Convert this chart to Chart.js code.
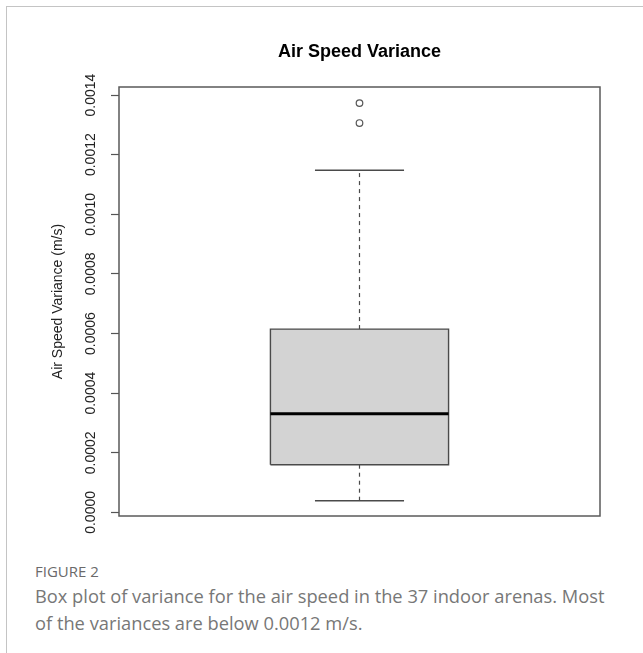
<!DOCTYPE html>
<html>
<head>
<meta charset="utf-8">
<script src="https://cdn.jsdelivr.net/npm/chart.js@4.4.1/dist/chart.umd.min.js"></script>
<style>
  html, body { margin: 0; padding: 0; background: #fff; }
  body { width: 643px; height: 653px; position: relative; overflow: hidden; }
  #frame { position: absolute; left: 6px; top: 6px; right: 0; bottom: 0;
           border-top: 1px solid #c4c4c4; border-left: 1px solid #c4c4c4; }
  #wrap { position: absolute; left: 0; top: 0; width: 643px; height: 545px; }
  #fig { position: absolute; left: 35px; top: 562px; font-family: "Open Sans", sans-serif;
         font-size: 15px; color: #6a6a6a; line-height: 19px; }
  #cap { position: absolute; left: 35px; top: 582px; font-family: "Open Sans", sans-serif;
         font-size: 18.3px; color: #777; line-height: 27px; white-space: nowrap; }
</style>
</head>
<body>
<div id="frame"></div>
<div id="wrap"><canvas id="c" width="643" height="545"></canvas></div>
<div id="fig">FIGURE 2</div>
<div id="cap">Box plot of variance for the air speed in the 37 indoor arenas. Most<br>of the variances are below 0.0012 m/s.</div>
<script>
// ---- data ----
const chartTitle = "Air Speed Variance";
const yAxisTitle = "Air Speed Variance (m/s)";
// [lower whisker, Q1, median, Q3, upper whisker]
const boxStats = [0.0000393, 0.000160, 0.000331, 0.000615, 0.001148];
const outlierValues = [0.001306, 0.001373];
const yTicks = [0.0000, 0.0002, 0.0004, 0.0006, 0.0008, 0.0010, 0.0012, 0.0014];
const yRange = [-0.000012, 0.001427];

// ---- geometry in x units (box centred at 1) ----
const center = 1, boxHalf = 0.2, capHalf = 0.1;
const [lo, q1, med, q3, hi] = boxStats;

const lineCol = '#4a4a4a';
const base = { type: 'line', pointRadius: 0, pointHoverRadius: 0, tension: 0, fill: false, showLine: true };

// Chart.js draws the first dataset on top, so the box fill comes last.
const datasets = [
  { type: 'line', label: 'outliers', showLine: false, data: outlierValues.map(v => ({x: center, y: v})),
    pointRadius: 3.3, pointHoverRadius: 3.3, pointStyle: 'circle', pointBorderColor: '#555',
    pointBackgroundColor: 'rgba(0,0,0,0)', pointBorderWidth: 1.2 },
  Object.assign({}, base, { label: 'median', data: [{x: center - boxHalf, y: med}, {x: center + boxHalf, y: med}],
    borderWidth: 3, borderColor: '#000' }),
  Object.assign({}, base, { label: 'boxOutline', data: [
      {x: center - boxHalf, y: q1}, {x: center + boxHalf, y: q1}, {x: center + boxHalf, y: q3},
      {x: center - boxHalf, y: q3}, {x: center - boxHalf, y: q1}],
    borderWidth: 1.4, borderColor: lineCol }),
  Object.assign({}, base, { label: 'upperWhisker', data: [{x: center, y: q3}, {x: center, y: hi}],
    borderWidth: 1.2, borderColor: lineCol, borderDash: [4, 4] }),
  Object.assign({}, base, { label: 'lowerWhisker', data: [{x: center, y: lo}, {x: center, y: q1}],
    borderWidth: 1.2, borderColor: lineCol, borderDash: [4, 4] }),
  Object.assign({}, base, { label: 'upperCap', data: [{x: center - capHalf, y: hi}, {x: center + capHalf, y: hi}],
    borderWidth: 1.4, borderColor: lineCol }),
  Object.assign({}, base, { label: 'lowerCap', data: [{x: center - capHalf, y: lo}, {x: center + capHalf, y: lo}],
    borderWidth: 1.4, borderColor: lineCol }),
  Object.assign({}, base, { label: 'boxTop', data: [{x: center - boxHalf, y: q3}, {x: center + boxHalf, y: q3}],
    borderWidth: 0, borderColor: 'rgba(0,0,0,0)', backgroundColor: '#d3d3d3', fill: '+1' }),
  Object.assign({}, base, { label: 'boxBottom', data: [{x: center - boxHalf, y: q1}, {x: center + boxHalf, y: q1}],
    borderWidth: 0, borderColor: 'rgba(0,0,0,0)' })
];

const framePlugin = {
  id: 'frame',
  afterDatasetsDraw(chart) {
    const {ctx, chartArea: a} = chart;
    ctx.save();
    ctx.strokeStyle = '#5a5a5a';
    ctx.lineWidth = 1.5;
    ctx.strokeRect(a.left, a.top, a.right - a.left, a.bottom - a.top);
    ctx.restore();
  }
};

new Chart(document.getElementById('c'), {
  type: 'line',
  data: { datasets },
  plugins: [framePlugin],
  options: {
    responsive: false,
    animation: false,
    events: [],
    layout: { padding: { left: 0, right: 43, top: 41, bottom: 29 } },
    plugins: {
      legend: { display: false },
      tooltip: { enabled: false },
      title: { display: true, text: chartTitle, fullSize: false, color: '#000',
               font: { family: "'Liberation Sans', Arial, sans-serif", size: 18, weight: 'bold' },
               padding: { top: 0, bottom: 24.4 } }
    },
    scales: {
      x: { type: 'linear', min: 0.46, max: 1.54, display: false },
      y: {
        type: 'linear', min: yRange[0], max: yRange[1],
        afterBuildTicks: s => { s.ticks = yTicks.map(v => ({ value: v })); },
        afterFit: s => { s.width = 119; },
        border: { display: false },
        grid: { drawOnChartArea: false, drawTicks: true, tickLength: 8, tickColor: '#555', tickWidth: 1.2 },
        ticks: {
          minRotation: 90, maxRotation: 90, crossAlign: 'center', padding: -2,
          color: '#222', font: { family: "'Liberation Sans', Arial, sans-serif", size: 14 },
          callback: v => Number(v).toFixed(4)
        },
        title: { display: true, text: yAxisTitle, color: '#222',
                 font: { family: "'Liberation Sans', Arial, sans-serif", size: 14 },
                 padding: { top: 49.6, bottom: 0 } }
      }
    }
  }
});
</script>
</body>
</html>
